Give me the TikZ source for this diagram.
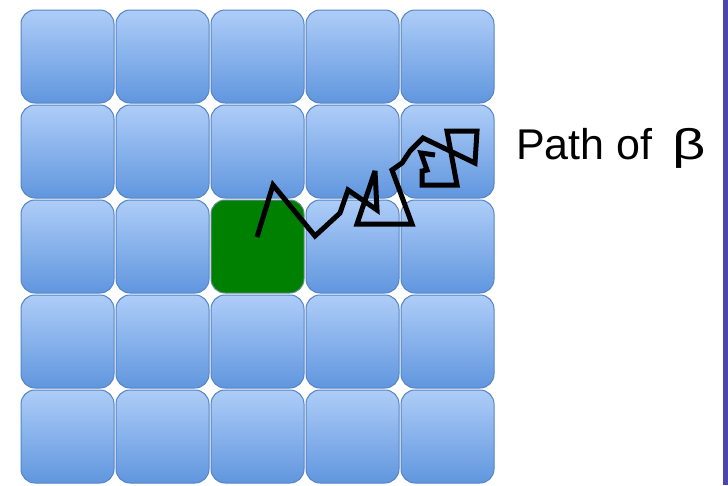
\documentclass[tikz,border=0pt]{standalone}
\usepackage{graphicx}
\usepackage{fontspec}
\setmainfont{Liberation Sans}
\definecolor{tiletop}{RGB}{174,205,248}
\definecolor{tilebot}{RGB}{96,150,222}
\definecolor{tileborder}{RGB}{84,132,198}
\definecolor{gfill}{RGB}{0,128,0}
\definecolor{gborder}{RGB}{100,140,150}
\definecolor{barcolor}{RGB}{72,72,172}
\begin{document}
\begin{tikzpicture}[x=1pt,y=-1pt,
  tile/.style={draw=tileborder, line width=1pt, rounded corners=14pt,
    minimum width=93pt, minimum height=93pt, inner sep=0pt, anchor=north west,
    top color=tiletop, bottom color=tilebot},
  gtile/.style={draw=gborder, line width=1pt, rounded corners=14pt,
    minimum width=93pt, minimum height=93pt, inner sep=0pt, anchor=north west,
    fill=gfill},
  walk/.style={line width=5pt, line join=miter, miter limit=3, black},
  lbl/.style={anchor=base west, inner sep=0pt, font=\fontsize{43}{50}\selectfont}]
\useasboundingbox (0,0) rectangle (728,485);
\fill[white] (0,0) rectangle (728,485);
\foreach \j in {0,...,4} {
  \foreach \i in {0,...,4} {
    \ifnum\i\j=22
      \node[gtile] (t\i\j) at ({20.5+95*\i},{9.5+95*\j}) {};
    \else
      \node[tile] (t\i\j) at ({20.5+95*\i},{9.5+95*\j}) {};
    \fi
  }
}
\draw[walk] (257,237) -- (273,185) -- (315,236) -- (340,213) -- (348,190)
  -- (377,210) -- (375,171) -- (357,224) -- (412,224) -- (392,170)
  -- (402,163) -- (410,151) -- (423,138) -- (475,163) -- (477,131)
  -- (447,131) -- (457,185) -- (422,185) -- (422,171) -- (427,170)
  -- (421,153) -- (435,155);
\node[lbl] (label) at (516,159) {Path of\kern 8pt\ \scalebox{1.35}[1]{β}};
\fill[barcolor] (723,0) rectangle (728,485);
\end{tikzpicture}
\end{document}
